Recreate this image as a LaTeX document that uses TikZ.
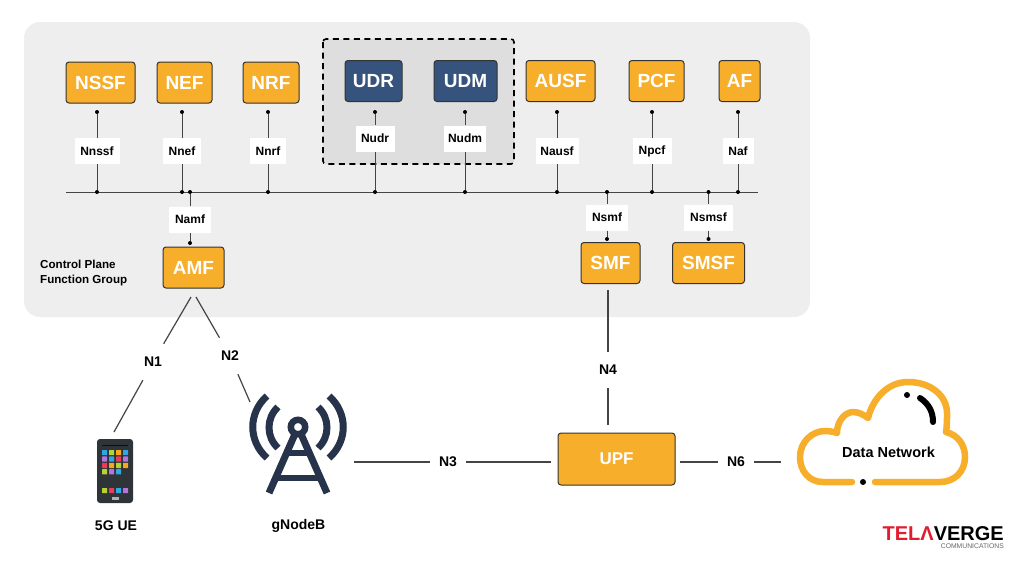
\documentclass[tikz,border=0pt]{standalone}
\usepackage{fontspec}
\setmainfont{Liberation Sans}
\usetikzlibrary{positioning,matrix}

\definecolor{panelgray}{HTML}{EEEEEE}
\definecolor{groupgray}{HTML}{DEDEDE}
\definecolor{nforange}{HTML}{F7AE2B}
\definecolor{nfblue}{HTML}{36537E}
\definecolor{towerblue}{HTML}{27334A}
\definecolor{linegray}{HTML}{444444}
\definecolor{phonebody}{HTML}{2F3439}
\definecolor{applime}{HTML}{B5D334}
\definecolor{appblue}{HTML}{2FA7E0}
\definecolor{appamber}{HTML}{F5A81C}
\definecolor{appviolet}{HTML}{B573E0}
\definecolor{appred}{HTML}{EE3A57}
\definecolor{logored}{HTML}{E31B2E}

\tikzset{
  nfbox/.style={draw=black!80, line width=1pt, rounded corners=3pt, fill=nforange,
      text=white, inner sep=0pt, minimum height=41pt, font=\bfseries\fontsize{19}{22}\selectfont},
  bluebox/.style={nfbox, fill=nfblue},
  labelbox/.style={fill=white, inner sep=0pt, minimum height=26pt, font=\bfseries\fontsize{12}{14}\selectfont},
  linklabel/.style={inner sep=0pt, minimum width=36pt, minimum height=36pt, font=\bfseries\fontsize{14}{16}\selectfont},
  busdot/.style={circle, fill=black, inner sep=0pt, minimum size=4pt},
  thinline/.style={draw=linegray, line width=0.9pt},
  linkline/.style={draw=linegray, line width=1.2pt},
}

\begin{document}
\begin{tikzpicture}[x=1pt, y=-1pt]
      \useasboundingbox (0,0) rectangle (1024,576);

      % Control plane panel and UDR/UDM group
      \fill[panelgray, rounded corners=16pt] (24,22) rectangle (810,317);
      \draw[fill=groupgray, line width=1.6pt, dash pattern=on 6pt off 4.5pt, rounded corners=3pt]
          (323,39) rectangle (514,164);

      % Network functions on top
      \node[nfbox, minimum width=69pt](nssf) at (100.5,82.5) {NSSF};
      \node[nfbox, minimum width=55pt](nef) at (184.5,82.5) {NEF};
      \node[nfbox, minimum width=56pt](nrf) at (271,82.5) {NRF};
      \node[bluebox, minimum width=57pt](udr) at (373.5,81) {UDR};
      \node[bluebox, minimum width=63pt](udm) at (465.5,81) {UDM};
      \node[nfbox, minimum width=69pt](ausf) at (560.5,81) {AUSF};
      \node[nfbox, minimum width=55pt](pcf) at (656.5,81) {PCF};
      \node[nfbox, minimum width=41pt](af) at (739.5,81) {AF};

      % Network functions below the bus
      \node[nfbox, minimum width=61pt](amf) at (193.5,267.5) {AMF};
      \node[nfbox, minimum width=59pt](smf) at (610.5,263) {SMF};
      \node[nfbox, minimum width=72pt](smsf) at (708.5,263) {SMSF};

      % Service bus
      \coordinate (busleft) at (66,192);
      \coordinate (busright) at (758,192);
      \draw[thinline] (busleft) -- (busright);

      % Service interfaces on top
      \node[busdot](nssftop) at (97,112) {};
      \node[busdot](nssfbus) at (97,192) {};
      \node[labelbox, minimum width=45pt](nnssf) at (97,151) {Nnssf};
      \draw[thinline] (nssftop) -- (nnssf) -- (nssfbus);

      \node[busdot](neftop) at (182,112) {};
      \node[busdot](nefbus) at (182,192) {};
      \node[labelbox, minimum width=38pt](nnef) at (182,151) {Nnef};
      \draw[thinline] (neftop) -- (nnef) -- (nefbus);

      \node[busdot](nrftop) at (268,112) {};
      \node[busdot](nrfbus) at (268,192) {};
      \node[labelbox, minimum width=36pt](nnrf) at (268,151) {Nnrf};
      \draw[thinline] (nrftop) -- (nnrf) -- (nrfbus);

      \node[busdot](udrtop) at (375,112) {};
      \node[busdot](udrbus) at (375,192) {};
      \node[labelbox, minimum width=39pt](nudr) at (375,138.5) {Nudr};
      \draw[thinline] (udrtop) -- (nudr) -- (udrbus);

      \node[busdot](udmtop) at (465,112) {};
      \node[busdot](udmbus) at (465,192) {};
      \node[labelbox, minimum width=42pt](nudm) at (465,138.5) {Nudm};
      \draw[thinline] (udmtop) -- (nudm) -- (udmbus);

      \node[busdot](ausftop) at (557,112) {};
      \node[busdot](ausfbus) at (557,192) {};
      \node[labelbox, minimum width=43pt](nausf) at (557,151) {Nausf};
      \draw[thinline] (ausftop) -- (nausf) -- (ausfbus);

      \node[busdot](pcftop) at (652,112) {};
      \node[busdot](pcfbus) at (652,192) {};
      \node[labelbox, minimum width=39pt](npcf) at (652,151) {Npcf};
      \draw[thinline] (pcftop) -- (npcf) -- (pcfbus);

      \node[busdot](aftop) at (738,112) {};
      \node[busdot](afbus) at (738,192) {};
      \node[labelbox, minimum width=31pt](naf) at (738,151) {Naf};
      \draw[thinline] (aftop) -- (naf) -- (afbus);

      % Service interfaces below the bus
      \node[busdot](amfbus) at (190,192) {};
      \node[busdot](amftop) at (190,243) {};
      \node[labelbox, minimum width=42pt](namf) at (190,219.5) {Namf};
      \draw[thinline] (amfbus) -- (namf) -- (amftop);

      \node[busdot](smfbus) at (607,192) {};
      \node[busdot](smftop) at (607,239) {};
      \node[labelbox, minimum width=42pt](nsmf) at (607,217.5) {Nsmf};
      \draw[thinline] (smfbus) -- (nsmf) -- (smftop);

      \node[busdot](smsfbus) at (708.5,192) {};
      \node[busdot](smsftop) at (708.5,239) {};
      \node[labelbox, minimum width=49pt](nsmsf) at (708.5,217.5) {Nsmsf};
      \draw[thinline] (smsfbus) -- (nsmsf) -- (smsftop);

      % Panel caption
      \node[anchor=west, align=left, inner sep=0pt, font=\bfseries\fontsize{11.6}{15.5}\selectfont](groupname)
          at (40,273) {Control Plane\\Function Group};

      % User plane
      \node[nfbox, minimum width=117pt, minimum height=52pt, font=\bfseries\fontsize{17}{20}\selectfont](upf)
          at (616.5,459) {UPF};

      % Phone
      \fill[phonebody, rounded corners=3pt] (97,439) rectangle (133,503);
      \fill[black!70!phonebody] (102,445) rectangle (128,445.8);
      \node[anchor=north, inner sep=0pt, minimum width=7pt, minimum height=3pt, fill=gray!60](homekey)
          at (115,497) {};
      \matrix(apps)[matrix of nodes, anchor=north west, inner sep=0pt, row sep=1.2pt, column sep=1.8pt,
          nodes={minimum size=5.2pt, inner sep=0pt, rounded corners=0.6pt}]
          at (101.8,449.8)
      {
          |[fill=appblue]| {} & |[fill=applime]| {} & |[fill=appamber]| {} & |[fill=appblue]| {} \\
          |[fill=appviolet]| {} & |[fill=appblue]| {} & |[fill=appred]| {} & |[fill=appviolet]| {} \\
          |[fill=appred]| {} & |[fill=appamber]| {} & |[fill=applime]| {} & |[fill=appamber]| {} \\
          |[fill=applime]| {} & |[fill=appviolet]| {} & |[fill=appblue]| {} & {} \\
      };
      \matrix(dock)[matrix of nodes, anchor=north west, inner sep=0pt, column sep=1.8pt,
          nodes={minimum size=5.2pt, inner sep=0pt, rounded corners=0.6pt}]
          at (101.8,487.8)
      {
          |[fill=applime]| {} & |[fill=appred]| {} & |[fill=appblue]| {} & |[fill=appviolet]| {} \\
      };
      \node[font=\bfseries\fontsize{14}{16}\selectfont](uename) at (116,526) {5G UE};

      % Radio tower
      \begin{scope}[draw=towerblue, line width=7pt]
          \draw[line width=6.5pt] (298,427) circle (7.2pt);
          \draw (295,434) -- (269,493);
          \draw (301,434) -- (327,493);
          \draw[line width=6pt] (285,452.5) -- (311,452.5);
          \draw[line width=6pt] (275,478) -- (321,478);
          \draw (278,407) .. controls (266,418) and (266,437) .. (278,448);
          \draw (267,396) .. controls (248,413) and (248,441) .. (267,458);
          \draw (318,407) .. controls (330,418) and (330,437) .. (318,448);
          \draw (329,396) .. controls (348,413) and (348,441) .. (329,458);
      \end{scope}
      \node[font=\bfseries\fontsize{14}{16}\selectfont](gnbname) at (298.5,526) {gNodeB};

      % Cloud
      \draw[draw=nforange, line width=6.5pt, line cap=round, line join=round]
          (852,482) -- (823,482)
          .. controls (809,482) and (800,471) .. (800,457)
          .. controls (800,442) and (812,431) .. (825,431)
          .. controls (830,431) and (834,432) .. (837,433)
          .. controls (837,420) and (846,412) .. (853,412)
          .. controls (859,412) and (864,415) .. (868,418)
          .. controls (873,398) and (888,382) .. (908,382)
          .. controls (931,382) and (947,396) .. (947,413)
          .. controls (947,420) and (947,426) .. (946,432)
          .. controls (958,435) and (965,445) .. (965,457)
          .. controls (965,472) and (954,482) .. (940,482)
          -- (875,482);
      \fill[black] (863,482) circle (3pt);
      \fill[black] (907,395) circle (3pt);
      \draw[black, line width=6pt, line cap=round] (920,398) .. controls (929,404) and (933,412) .. (933,422);
      \node[font=\bfseries\fontsize{14.5}{17}\selectfont](dn) at (888.5,452) {Data Network};

      % Reference points
      \coordinate (amfleft) at (191,297);
      \coordinate (amfright) at (196,297);
      \coordinate (uetop) at (114,432);
      \coordinate (gnbtop) at (250,402);
      \coordinate (gnbright) at (354,462);
      \coordinate (upfleft) at (551,462);
      \coordinate (upfright) at (680,462);
      \coordinate (smfdown) at (608,290);
      \coordinate (upftop) at (608,425);
      \coordinate (cloudleft) at (781,462);

      \node[linklabel](nOne) at (153,362) {N1};
      \node[linklabel](nTwo) at (230,356) {N2};
      \node[linklabel](nThree) at (448,462) {N3};
      \node[linklabel](nFour) at (608,370) {N4};
      \node[linklabel](nSix) at (736,462) {N6};

      \draw[linkline] (amfleft) -- (nOne) -- (uetop);
      \draw[linkline] (amfright) -- (nTwo) -- (gnbtop);
      \draw[linkline] (gnbright) -- (nThree) -- (upfleft);
      \draw[linkline] (smfdown) -- (nFour) -- (upftop);
      \draw[linkline] (upfright) -- (nSix) -- (cloudleft);

      % Logo
      \node[anchor=east, inner sep=0pt, font=\bfseries\fontsize{20}{22}\selectfont](logo)
          at (1004,533.5) {\textcolor{logored}{TELΛ}VERGE};
      \node[inner sep=0pt, text=black!60, font=\fontsize{6.8}{8}\selectfont, below=3pt of logo.south east, anchor=north east](logosub)
          {COMMUNICATIONS};
\end{tikzpicture}
\end{document}
